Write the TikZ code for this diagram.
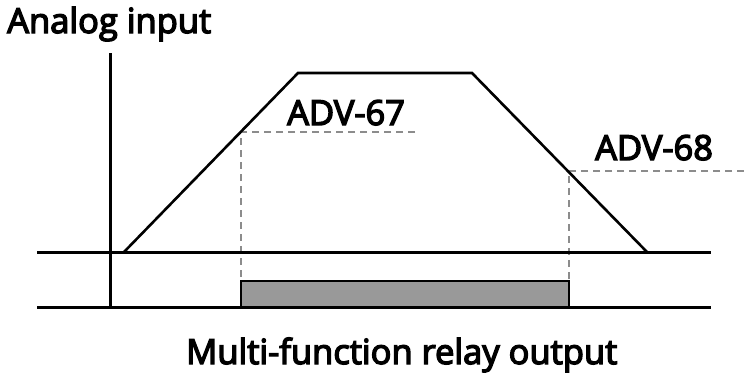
\documentclass[tikz,border=0pt]{standalone}
\usepackage{fontspec}
\setmainfont{Open Sans}[FakeBold=4]
\begin{document}
\begin{tikzpicture}[x=1pt,y=-1pt,
  axis/.style={line width=3pt,black},
  curve/.style={line width=2.6pt,black,line join=miter},
  guide/.style={line width=2pt,color=black!45,dash pattern=on 7pt off 5pt},
  lbl/.style={inner sep=0pt,anchor=base west,font=\fontsize{34.5}{34.5}\selectfont}]
\useasboundingbox (0,0) rectangle (744,375);
% axes
\coordinate (vtop) at (110,53);
\coordinate (vbot) at (110,308);
\coordinate (h1l) at (37,252);
\coordinate (h1r) at (711,252);
\coordinate (h2l) at (37,307);
\coordinate (h2r) at (711,307);
% trapezoid
\coordinate (p0) at (124,252);
\coordinate (p1) at (298,73);
\coordinate (p2) at (472,73);
\coordinate (p3) at (647,252);
% guides
\coordinate (a67) at (241,132);
\coordinate (a67e) at (415,132);
\coordinate (a68) at (569,171);
\coordinate (a68e) at (744,171);
\coordinate (r1) at (241,281);
\coordinate (r2) at (569,307);
\draw[guide] (a67e) -- (a67) -- (a67 |- r1);
\draw[guide] (a68e) -- (a68) -- (a68 |- r1);
\draw[line width=2.4pt,fill=black!40] (r1) rectangle (r2);
\draw[axis] (vtop) -- (vbot);
\draw[axis] (h1l) -- (h1r);
\draw[axis] (h2l) -- (h2r);
\draw[curve] (p0) -- (p1) -- (p2) -- (p3);
% labels
\node[lbl] (tin) at (7,33) {Analog input};
\node[lbl] (t67) at (287,125) {ADV-67};
\node[lbl] (t68) at (595,160) {ADV-68};
\node[lbl] (tout) at (186,364) {Multi-function relay output};
\end{tikzpicture}
\end{document}
